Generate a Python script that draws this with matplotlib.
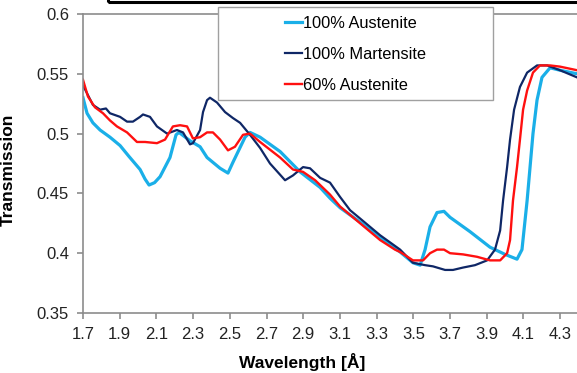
import matplotlib
matplotlib.use('Agg')
import matplotlib.pyplot as plt
from matplotlib.patches import Rectangle

plt.rcParams['font.family'] = ['Liberation Sans', 'DejaVu Sans']

# Кривые пропускания (длина волны в Å, пропускание)
wl_aus = [1.700, 1.722, 1.754, 1.793, 1.847, 1.902, 1.950, 2.011, 2.038, 2.060, 2.090,
          2.120, 2.174, 2.207, 2.223, 2.283, 2.338, 2.376, 2.447, 2.490, 2.517, 2.583,
          2.610, 2.665, 2.774, 2.883, 2.992, 3.046, 3.101, 3.210, 3.319, 3.428, 3.498,
          3.537, 3.564, 3.591, 3.629, 3.667, 3.700, 3.809, 3.918, 4.000, 4.065, 4.092,
          4.120, 4.152, 4.174, 4.201, 4.245, 4.299, 4.392]
tr_aus = [0.530, 0.517, 0.509, 0.503, 0.497, 0.490, 0.481, 0.470, 0.462, 0.457, 0.459,
          0.464, 0.480, 0.499, 0.501, 0.494, 0.489, 0.480, 0.471, 0.467, 0.476, 0.497,
          0.501, 0.497, 0.485, 0.468, 0.455, 0.446, 0.438, 0.426, 0.413, 0.401, 0.392,
          0.390, 0.403, 0.422, 0.434, 0.435, 0.430, 0.418, 0.405, 0.399, 0.395, 0.403,
          0.444, 0.500, 0.528, 0.547, 0.555, 0.553, 0.550]

wl_mart = [1.700, 1.711, 1.754, 1.793, 1.825, 1.847, 1.902, 1.940, 1.972, 2.011, 2.027,
           2.065, 2.103, 2.158, 2.212, 2.245, 2.283, 2.299, 2.338, 2.354, 2.376, 2.392,
           2.430, 2.474, 2.517, 2.556, 2.610, 2.665, 2.719, 2.801, 2.844, 2.899, 2.937,
           2.992, 3.046, 3.101, 3.155, 3.210, 3.319, 3.428, 3.498, 3.564, 3.607, 3.673,
           3.716, 3.771, 3.836, 3.902, 3.945, 3.973, 3.989, 4.011, 4.027, 4.049, 4.081,
           4.120, 4.174, 4.229, 4.299, 4.392]
tr_mart = [0.540, 0.537, 0.524, 0.520, 0.521, 0.517, 0.514, 0.510, 0.510, 0.514, 0.516,
           0.514, 0.506, 0.500, 0.503, 0.501, 0.491, 0.492, 0.503, 0.518, 0.528, 0.530,
           0.526, 0.518, 0.513, 0.509, 0.499, 0.488, 0.475, 0.461, 0.465, 0.472, 0.471,
           0.463, 0.459, 0.447, 0.436, 0.429, 0.415, 0.403, 0.392, 0.390, 0.389, 0.386,
           0.386, 0.388, 0.390, 0.394, 0.403, 0.419, 0.444, 0.472, 0.495, 0.520, 0.539,
           0.551, 0.557, 0.557, 0.553, 0.547]

wl_60 = [1.700, 1.727, 1.765, 1.809, 1.847, 1.885, 1.940, 1.994, 2.038, 2.103, 2.147,
         2.190, 2.229, 2.267, 2.299, 2.338, 2.376, 2.408, 2.447, 2.490, 2.528, 2.572,
         2.610, 2.665, 2.774, 2.844, 2.899, 2.965, 2.992, 3.046, 3.101, 3.210, 3.319,
         3.400, 3.428, 3.498, 3.553, 3.591, 3.629, 3.667, 3.700, 3.771, 3.847, 3.918,
         3.973, 4.011, 4.027, 4.043, 4.065, 4.081, 4.098, 4.120, 4.152, 4.190, 4.245,
         4.299, 4.392]
tr_60 = [0.545, 0.531, 0.522, 0.517, 0.511, 0.506, 0.501, 0.493, 0.493, 0.492, 0.495,
         0.506, 0.507, 0.506, 0.496, 0.497, 0.501, 0.501, 0.495, 0.486, 0.489, 0.499,
         0.500, 0.493, 0.480, 0.470, 0.468, 0.461, 0.457, 0.449, 0.439, 0.425, 0.411,
         0.403, 0.401, 0.394, 0.394, 0.400, 0.403, 0.403, 0.400, 0.399, 0.397, 0.394,
         0.394, 0.400, 0.411, 0.444, 0.472, 0.495, 0.520, 0.536, 0.551, 0.557, 0.557,
         0.556, 0.553]

x_ticks = [1.7, 1.9, 2.1, 2.3, 2.5, 2.7, 2.9, 3.1, 3.3, 3.5, 3.7, 3.9, 4.1, 4.3]
y_ticks = [0.35, 0.4, 0.45, 0.5, 0.55, 0.6]
y_tick_labels = ['0.35', '0.4', '0.45', '0.5', '0.55', '0.6']

W, H = 577, 373
fig = plt.figure(figsize=(W / 100, H / 100), dpi=100)
ax = fig.add_axes([83 / W, 60 / H, 495.5 / W, 299 / H])

ax.plot(wl_aus, tr_aus, color='#1AAFE8', lw=2.3, label='100% Austenite')
ax.plot(wl_mart, tr_mart, color='#0F2766', lw=1.6, label='100% Martensite')
ax.plot(wl_60, tr_60, color='#FF1010', lw=1.7, label='60% Austenite')

ax.set_xlim(1.7, 4.4)
ax.set_ylim(0.35, 0.6)
ax.set_xticks(x_ticks)
ax.set_xticklabels([f'{v:.1f}' for v in x_ticks])
ax.set_yticks(y_ticks)
ax.set_yticklabels(y_tick_labels)

gray = '#8C8C8C'
for s in ax.spines.values():
    s.set_color(gray)
    s.set_linewidth(1.2)
ax.tick_params(direction='out', length=4, width=1.2, color=gray,
               labelsize=12, labelcolor='#222222', pad=6)

ax.set_xlabel('Wavelength [Å]', fontsize=12.5, fontweight='bold')
ax.xaxis.set_label_coords(0.442, -0.135)
ax.set_ylabel('Transmission', fontsize=12.5, fontweight='bold')
ax.yaxis.set_label_coords(-0.135, 0.48)

# рамка легенды
fig.patches.append(Rectangle((218 / W, 1 - 100 / H), 275 / W, 93 / H,
                             transform=fig.transFigure, facecolor='white',
                             edgecolor='#A0A0A0', lw=1, zorder=2))
# нижняя граница рамки заголовка
fig.patches.append(Rectangle((108 / W, 1 - 2 / H), 600 / W, 20 / H,
                             transform=fig.transFigure, facecolor='none',
                             edgecolor='black', lw=2.2, zorder=2))

handles, labels = ax.get_legend_handles_labels()
leg = fig.legend(handles, labels, loc='upper left',
                 bbox_to_anchor=(285 / W, 1 - 16 / H), frameon=False,
                 fontsize=11.8, handlelength=1.05, handletextpad=0.05,
                 labelspacing=0.98, borderpad=0, borderaxespad=0)
leg.set_zorder(3)

fig.savefig('out.png', dpi=100)
